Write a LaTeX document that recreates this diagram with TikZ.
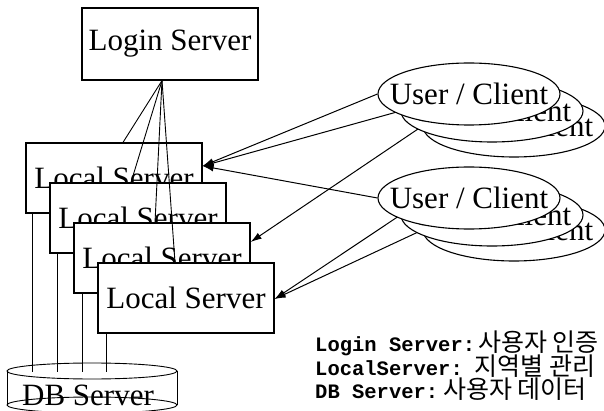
\documentclass[tikz,border=0pt]{standalone}
\usepackage{fontspec}
\setmainfont{Liberation Serif}
\newfontfamily\legendmono{Liberation Mono}
\newfontfamily\legendkr{Noto Sans CJK KR}
\usetikzlibrary{shapes.geometric,arrows.meta}
\pgfdeclarelayer{background}
\pgfsetlayers{background,main}

\begin{document}
\begin{tikzpicture}[x=1pt,y=-1pt,
  server/.style={draw,line width=1.2pt,fill=white,minimum width=176pt,minimum height=70pt,
    inner sep=0pt,font=\fontsize{31}{31}\selectfont},
  client/.style={ellipse,draw,line width=1.1pt,fill=white,minimum width=182pt,minimum height=62pt,
    inner sep=0pt,font=\fontsize{31}{31}\selectfont},
  link/.style={line width=0.9pt},
  req/.style={line width=1pt,-{Latex[length=11pt,width=7pt]}},
  legend/.style={anchor=base west,inner sep=0pt,font=\fontsize{20.5}{20.5}\selectfont}
]
\useasboundingbox (0,0) rectangle (604,411);

% login server and the stacked local servers
\node[server,minimum height=72pt] (lg) at (170,44) {Login Server};
\node[server] (ls1) at (114,178) {Local Server};
\node[server] (ls2) at (138,218) {Local Server};
\node[server] (ls3) at (162,258) {Local Server};
\node[server] (ls4) at (186,298) {Local Server};

% login server fans out to every local server
\draw[link] ([xshift=-8pt]lg.south) -- ([xshift=9pt]ls1.north);
\draw[link] ([xshift=-8pt]lg.south) -- ([xshift=-7pt]ls2.north);
\draw[link] ([xshift=-8pt]lg.south) -- ([xshift=-7pt]ls3.north);
\draw[link] ([xshift=-8pt]lg.south) -- ([xshift=-11pt]ls4.north);

% database cylinder
\coordinate (dbtop) at (92,372);
\draw[link] (92,371) ellipse [x radius=85pt,y radius=8pt];
\draw[link] (7,371) -- (7,405);
\draw[link] (177,371) -- (177,405);
\draw[link] (92,405) ellipse [x radius=85pt,y radius=8pt];
\node[inner sep=0pt,font=\fontsize{31}{31}\selectfont] (db) at (88,395) {DB Server};

% each local server talks to the database
\draw[link] ([xshift=7pt]ls1.south west) -- ([xshift=7pt]ls1.south west |- dbtop);
\draw[link] ([xshift=8pt]ls2.south west) -- ([xshift=8pt]ls2.south west |- dbtop);
\draw[link] ([xshift=9pt]ls3.south west) -- ([xshift=9pt]ls3.south west |- dbtop);
\draw[link] ([xshift=9pt]ls4.south west) -- ([xshift=9pt]ls4.south west |- dbtop);

% two groups of clients, back to front (text box kept narrow so the
% ellipse keeps its fixed size)
\node[client] (c1c) at (514,126) {\makebox[0pt]{User / Client}};
\node[client] (c1b) at (492,111) {\makebox[0pt]{User / Client}};
\node[client] (c1a) at (469,94) {\makebox[0pt]{User / Client}};
\node[client] (c2c) at (514,230) {\makebox[0pt]{User / Client}};
\node[client] (c2b) at (492,215) {\makebox[0pt]{User / Client}};
\node[client] (c2a) at (469,198) {\makebox[0pt]{User / Client}};

% client requests, kept behind the client ellipses
\begin{pgfonlayer}{background}
\draw[req] (c1a.west) -- ([yshift=12pt]ls1.east);
\draw[req] (c1b.west) -- ([yshift=12pt]ls1.east);
\draw[req] (c2a.west) -- ([yshift=12pt]ls1.east);
\draw[req] (c1c.west) -- ([yshift=16pt]ls3.east);
\draw[req] (c2b.west) -- ([yshift=-1pt]ls4.east);
\draw[req] (c2c.west) -- ([yshift=-1pt]ls4.east);
\end{pgfonlayer}

% legend
\newcommand\krtext[1]{{\legendkr\fontsize{25}{25}\selectfont #1}}
\node[legend] (lgd1) at (315,351) {{\legendmono\bfseries Login Server:}\hspace{3pt}\krtext{사용자 인증}};
\node[legend] (lgd2) at (315,375) {{\legendmono\bfseries LocalServer:}\hspace{12pt}\krtext{지역별 관리}};
\node[legend] (lgd3) at (315,398) {{\legendmono\bfseries DB Server:}\hspace{5pt}\krtext{사용자 데이터}};
\end{tikzpicture}
\end{document}
